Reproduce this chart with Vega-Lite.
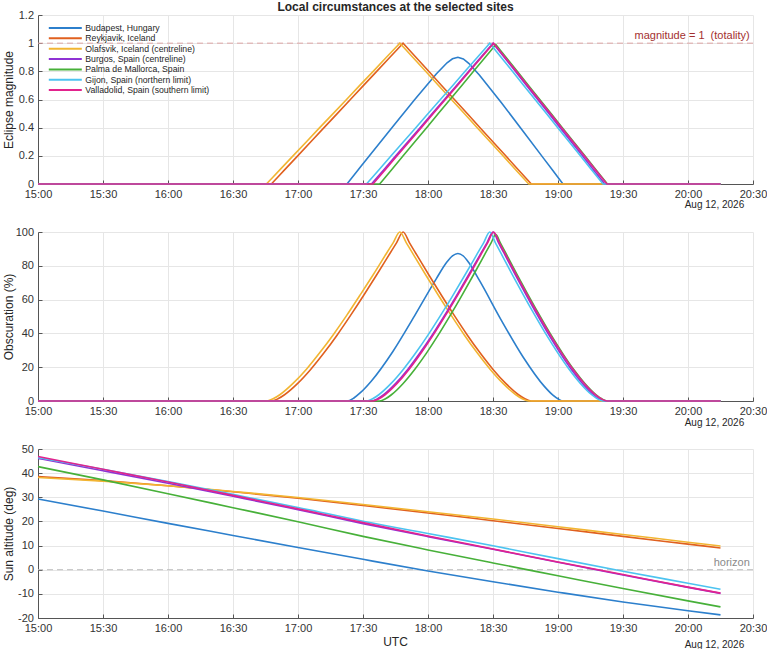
{
  "$schema": "https://vega.github.io/schema/vega-lite/v6.json",
  "background": "white",
  "padding": {"left": 2, "top": 0, "right": 0, "bottom": 0},
  "datasets": {
    "ecl": [
      {"site": "Budapest, Hungary", "t": "2026-08-12T15:00:00", "m": 0, "o": 0},
      {"site": "Budapest, Hungary", "t": "2026-08-12T17:22:36", "m": 0, "o": 0},
      {"site": "Budapest, Hungary", "t": "2026-08-12T17:25:48", "m": 0.062, "o": 1.8},
      {"site": "Budapest, Hungary", "t": "2026-08-12T17:28:48", "m": 0.12, "o": 4.9},
      {"site": "Budapest, Hungary", "t": "2026-08-12T17:33:48", "m": 0.216, "o": 11.7},
      {"site": "Budapest, Hungary", "t": "2026-08-12T17:43:48", "m": 0.408, "o": 29.3},
      {"site": "Budapest, Hungary", "t": "2026-08-12T17:53:48", "m": 0.599, "o": 50.4},
      {"site": "Budapest, Hungary", "t": "2026-08-12T18:03:48", "m": 0.781, "o": 72.3},
      {"site": "Budapest, Hungary", "t": "2026-08-12T18:08:48", "m": 0.861, "o": 82.4},
      {"site": "Budapest, Hungary", "t": "2026-08-12T18:11:18", "m": 0.889, "o": 85.9},
      {"site": "Budapest, Hungary", "t": "2026-08-12T18:13:48", "m": 0.9, "o": 87.3},
      {"site": "Budapest, Hungary", "t": "2026-08-12T18:16:18", "m": 0.888, "o": 85.8},
      {"site": "Budapest, Hungary", "t": "2026-08-12T18:18:48", "m": 0.857, "o": 81.9},
      {"site": "Budapest, Hungary", "t": "2026-08-12T18:23:48", "m": 0.772, "o": 71.2},
      {"site": "Budapest, Hungary", "t": "2026-08-12T18:33:48", "m": 0.578, "o": 47.9},
      {"site": "Budapest, Hungary", "t": "2026-08-12T18:43:48", "m": 0.377, "o": 26.2},
      {"site": "Budapest, Hungary", "t": "2026-08-12T18:53:48", "m": 0.173, "o": 8.5},
      {"site": "Budapest, Hungary", "t": "2026-08-12T18:57:48", "m": 0.092, "o": 3.3},
      {"site": "Budapest, Hungary", "t": "2026-08-12T19:00:18", "m": 0.041, "o": 1.0},
      {"site": "Budapest, Hungary", "t": "2026-08-12T19:02:18", "m": 0, "o": 0},
      {"site": "Budapest, Hungary", "t": "2026-08-12T20:15:00", "m": 0, "o": 0},

      {"site": "Reykjavik, Iceland", "t": "2026-08-12T15:00:00", "m": 0, "o": 0},
      {"site": "Reykjavik, Iceland", "t": "2026-08-12T16:47:42", "m": 0, "o": 0},
      {"site": "Reykjavik, Iceland", "t": "2026-08-12T16:50:44", "m": 0.05, "o": 1.3},
      {"site": "Reykjavik, Iceland", "t": "2026-08-12T16:53:47", "m": 0.1, "o": 3.7},
      {"site": "Reykjavik, Iceland", "t": "2026-08-12T16:59:52", "m": 0.2, "o": 10.4},
      {"site": "Reykjavik, Iceland", "t": "2026-08-12T17:05:56", "m": 0.3, "o": 18.8},
      {"site": "Reykjavik, Iceland", "t": "2026-08-12T17:12:01", "m": 0.4, "o": 28.5},
      {"site": "Reykjavik, Iceland", "t": "2026-08-12T17:18:06", "m": 0.5, "o": 39.1},
      {"site": "Reykjavik, Iceland", "t": "2026-08-12T17:24:11", "m": 0.6, "o": 50.5},
      {"site": "Reykjavik, Iceland", "t": "2026-08-12T17:30:16", "m": 0.7, "o": 62.4},
      {"site": "Reykjavik, Iceland", "t": "2026-08-12T17:36:20", "m": 0.8, "o": 74.7},
      {"site": "Reykjavik, Iceland", "t": "2026-08-12T17:42:25", "m": 0.9, "o": 87.3},
      {"site": "Reykjavik, Iceland", "t": "2026-08-12T17:45:28", "m": 0.95, "o": 93.6},
      {"site": "Reykjavik, Iceland", "t": "2026-08-12T17:48:30", "m": 1, "o": 100},
      {"site": "Reykjavik, Iceland", "t": "2026-08-12T17:51:28", "m": 0.95, "o": 93.6},
      {"site": "Reykjavik, Iceland", "t": "2026-08-12T17:54:25", "m": 0.9, "o": 87.3},
      {"site": "Reykjavik, Iceland", "t": "2026-08-12T18:00:20", "m": 0.8, "o": 74.7},
      {"site": "Reykjavik, Iceland", "t": "2026-08-12T18:06:16", "m": 0.7, "o": 62.4},
      {"site": "Reykjavik, Iceland", "t": "2026-08-12T18:12:11", "m": 0.6, "o": 50.5},
      {"site": "Reykjavik, Iceland", "t": "2026-08-12T18:18:06", "m": 0.5, "o": 39.1},
      {"site": "Reykjavik, Iceland", "t": "2026-08-12T18:24:01", "m": 0.4, "o": 28.5},
      {"site": "Reykjavik, Iceland", "t": "2026-08-12T18:29:56", "m": 0.3, "o": 18.8},
      {"site": "Reykjavik, Iceland", "t": "2026-08-12T18:35:52", "m": 0.2, "o": 10.4},
      {"site": "Reykjavik, Iceland", "t": "2026-08-12T18:41:47", "m": 0.1, "o": 3.7},
      {"site": "Reykjavik, Iceland", "t": "2026-08-12T18:44:44", "m": 0.05, "o": 1.3},
      {"site": "Reykjavik, Iceland", "t": "2026-08-12T18:47:42", "m": 0, "o": 0},
      {"site": "Reykjavik, Iceland", "t": "2026-08-12T20:15:00", "m": 0, "o": 0},

      {"site": "Olafsvik, Iceland (centreline)", "t": "2026-08-12T15:00:00", "m": 0, "o": 0},
      {"site": "Olafsvik, Iceland (centreline)", "t": "2026-08-12T16:45:24", "m": 0, "o": 0},
      {"site": "Olafsvik, Iceland (centreline)", "t": "2026-08-12T16:48:30", "m": 0.05, "o": 1.3},
      {"site": "Olafsvik, Iceland (centreline)", "t": "2026-08-12T16:51:36", "m": 0.1, "o": 3.7},
      {"site": "Olafsvik, Iceland (centreline)", "t": "2026-08-12T16:57:42", "m": 0.2, "o": 10.4},
      {"site": "Olafsvik, Iceland (centreline)", "t": "2026-08-12T17:03:54", "m": 0.3, "o": 18.8},
      {"site": "Olafsvik, Iceland (centreline)", "t": "2026-08-12T17:10:00", "m": 0.4, "o": 28.5},
      {"site": "Olafsvik, Iceland (centreline)", "t": "2026-08-12T17:16:12", "m": 0.5, "o": 39.1},
      {"site": "Olafsvik, Iceland (centreline)", "t": "2026-08-12T17:22:24", "m": 0.6, "o": 50.5},
      {"site": "Olafsvik, Iceland (centreline)", "t": "2026-08-12T17:28:30", "m": 0.7, "o": 62.4},
      {"site": "Olafsvik, Iceland (centreline)", "t": "2026-08-12T17:34:42", "m": 0.8, "o": 74.7},
      {"site": "Olafsvik, Iceland (centreline)", "t": "2026-08-12T17:40:48", "m": 0.9, "o": 87.3},
      {"site": "Olafsvik, Iceland (centreline)", "t": "2026-08-12T17:43:54", "m": 0.95, "o": 93.6},
      {"site": "Olafsvik, Iceland (centreline)", "t": "2026-08-12T17:47:00", "m": 1, "o": 100},
      {"site": "Olafsvik, Iceland (centreline)", "t": "2026-08-12T17:50:00", "m": 0.95, "o": 93.6},
      {"site": "Olafsvik, Iceland (centreline)", "t": "2026-08-12T17:52:57", "m": 0.9, "o": 87.3},
      {"site": "Olafsvik, Iceland (centreline)", "t": "2026-08-12T17:58:54", "m": 0.8, "o": 74.7},
      {"site": "Olafsvik, Iceland (centreline)", "t": "2026-08-12T18:04:51", "m": 0.7, "o": 62.4},
      {"site": "Olafsvik, Iceland (centreline)", "t": "2026-08-12T18:10:48", "m": 0.6, "o": 50.5},
      {"site": "Olafsvik, Iceland (centreline)", "t": "2026-08-12T18:16:45", "m": 0.5, "o": 39.1},
      {"site": "Olafsvik, Iceland (centreline)", "t": "2026-08-12T18:22:42", "m": 0.4, "o": 28.5},
      {"site": "Olafsvik, Iceland (centreline)", "t": "2026-08-12T18:28:39", "m": 0.3, "o": 18.8},
      {"site": "Olafsvik, Iceland (centreline)", "t": "2026-08-12T18:34:36", "m": 0.2, "o": 10.4},
      {"site": "Olafsvik, Iceland (centreline)", "t": "2026-08-12T18:40:33", "m": 0.1, "o": 3.7},
      {"site": "Olafsvik, Iceland (centreline)", "t": "2026-08-12T18:43:31", "m": 0.05, "o": 1.3},
      {"site": "Olafsvik, Iceland (centreline)", "t": "2026-08-12T18:46:30", "m": 0, "o": 0},
      {"site": "Olafsvik, Iceland (centreline)", "t": "2026-08-12T20:15:00", "m": 0, "o": 0},

      {"site": "Burgos, Spain (centreline)", "t": "2026-08-12T15:00:00", "m": 0, "o": 0},
      {"site": "Burgos, Spain (centreline)", "t": "2026-08-12T17:33:54", "m": 0, "o": 0},
      {"site": "Burgos, Spain (centreline)", "t": "2026-08-12T17:36:42", "m": 0.05, "o": 1.3},
      {"site": "Burgos, Spain (centreline)", "t": "2026-08-12T17:39:31", "m": 0.1, "o": 3.7},
      {"site": "Burgos, Spain (centreline)", "t": "2026-08-12T17:45:07", "m": 0.2, "o": 10.4},
      {"site": "Burgos, Spain (centreline)", "t": "2026-08-12T17:50:44", "m": 0.3, "o": 18.8},
      {"site": "Burgos, Spain (centreline)", "t": "2026-08-12T17:56:20", "m": 0.4, "o": 28.5},
      {"site": "Burgos, Spain (centreline)", "t": "2026-08-12T18:01:57", "m": 0.5, "o": 39.1},
      {"site": "Burgos, Spain (centreline)", "t": "2026-08-12T18:07:34", "m": 0.6, "o": 50.5},
      {"site": "Burgos, Spain (centreline)", "t": "2026-08-12T18:13:10", "m": 0.7, "o": 62.4},
      {"site": "Burgos, Spain (centreline)", "t": "2026-08-12T18:18:47", "m": 0.8, "o": 74.7},
      {"site": "Burgos, Spain (centreline)", "t": "2026-08-12T18:24:23", "m": 0.9, "o": 87.3},
      {"site": "Burgos, Spain (centreline)", "t": "2026-08-12T18:27:12", "m": 0.95, "o": 93.6},
      {"site": "Burgos, Spain (centreline)", "t": "2026-08-12T18:30:00", "m": 1, "o": 100},
      {"site": "Burgos, Spain (centreline)", "t": "2026-08-12T18:32:35", "m": 0.95, "o": 93.6},
      {"site": "Burgos, Spain (centreline)", "t": "2026-08-12T18:35:10", "m": 0.9, "o": 87.3},
      {"site": "Burgos, Spain (centreline)", "t": "2026-08-12T18:40:19", "m": 0.8, "o": 74.7},
      {"site": "Burgos, Spain (centreline)", "t": "2026-08-12T18:45:29", "m": 0.7, "o": 62.4},
      {"site": "Burgos, Spain (centreline)", "t": "2026-08-12T18:50:38", "m": 0.6, "o": 50.5},
      {"site": "Burgos, Spain (centreline)", "t": "2026-08-12T18:55:48", "m": 0.5, "o": 39.1},
      {"site": "Burgos, Spain (centreline)", "t": "2026-08-12T19:00:58", "m": 0.4, "o": 28.5},
      {"site": "Burgos, Spain (centreline)", "t": "2026-08-12T19:06:07", "m": 0.3, "o": 18.8},
      {"site": "Burgos, Spain (centreline)", "t": "2026-08-12T19:11:17", "m": 0.2, "o": 10.4},
      {"site": "Burgos, Spain (centreline)", "t": "2026-08-12T19:16:26", "m": 0.1, "o": 3.7},
      {"site": "Burgos, Spain (centreline)", "t": "2026-08-12T19:19:01", "m": 0.05, "o": 1.3},
      {"site": "Burgos, Spain (centreline)", "t": "2026-08-12T19:21:36", "m": 0, "o": 0},
      {"site": "Burgos, Spain (centreline)", "t": "2026-08-12T20:15:00", "m": 0, "o": 0},

      {"site": "Palma de Mallorca, Spain", "t": "2026-08-12T15:00:00", "m": 0, "o": 0},
      {"site": "Palma de Mallorca, Spain", "t": "2026-08-12T17:37:42", "m": 0, "o": 0},
      {"site": "Palma de Mallorca, Spain", "t": "2026-08-12T17:40:25", "m": 0.05, "o": 1.3},
      {"site": "Palma de Mallorca, Spain", "t": "2026-08-12T17:43:07", "m": 0.1, "o": 3.7},
      {"site": "Palma de Mallorca, Spain", "t": "2026-08-12T17:48:32", "m": 0.2, "o": 10.4},
      {"site": "Palma de Mallorca, Spain", "t": "2026-08-12T17:53:56", "m": 0.3, "o": 18.8},
      {"site": "Palma de Mallorca, Spain", "t": "2026-08-12T17:59:22", "m": 0.4, "o": 28.5},
      {"site": "Palma de Mallorca, Spain", "t": "2026-08-12T18:04:46", "m": 0.5, "o": 39.1},
      {"site": "Palma de Mallorca, Spain", "t": "2026-08-12T18:10:11", "m": 0.6, "o": 50.5},
      {"site": "Palma de Mallorca, Spain", "t": "2026-08-12T18:15:36", "m": 0.7, "o": 62.4},
      {"site": "Palma de Mallorca, Spain", "t": "2026-08-12T18:21:01", "m": 0.8, "o": 74.7},
      {"site": "Palma de Mallorca, Spain", "t": "2026-08-12T18:26:26", "m": 0.9, "o": 87.3},
      {"site": "Palma de Mallorca, Spain", "t": "2026-08-12T18:29:08", "m": 0.95, "o": 93.6},
      {"site": "Palma de Mallorca, Spain", "t": "2026-08-12T18:31:18", "m": 0.99, "o": 98.5},
      {"site": "Palma de Mallorca, Spain", "t": "2026-08-12T18:33:23", "m": 0.95, "o": 93.6},
      {"site": "Palma de Mallorca, Spain", "t": "2026-08-12T18:35:59", "m": 0.9, "o": 87.3},
      {"site": "Palma de Mallorca, Spain", "t": "2026-08-12T18:41:11", "m": 0.8, "o": 74.7},
      {"site": "Palma de Mallorca, Spain", "t": "2026-08-12T18:46:23", "m": 0.7, "o": 62.4},
      {"site": "Palma de Mallorca, Spain", "t": "2026-08-12T18:51:35", "m": 0.6, "o": 50.5},
      {"site": "Palma de Mallorca, Spain", "t": "2026-08-12T18:56:47", "m": 0.5, "o": 39.1},
      {"site": "Palma de Mallorca, Spain", "t": "2026-08-12T19:01:59", "m": 0.4, "o": 28.5},
      {"site": "Palma de Mallorca, Spain", "t": "2026-08-12T19:07:11", "m": 0.3, "o": 18.8},
      {"site": "Palma de Mallorca, Spain", "t": "2026-08-12T19:12:24", "m": 0.2, "o": 10.4},
      {"site": "Palma de Mallorca, Spain", "t": "2026-08-12T19:17:36", "m": 0.1, "o": 3.7},
      {"site": "Palma de Mallorca, Spain", "t": "2026-08-12T19:20:12", "m": 0.05, "o": 1.3},
      {"site": "Palma de Mallorca, Spain", "t": "2026-08-12T19:22:48", "m": 0, "o": 0},
      {"site": "Palma de Mallorca, Spain", "t": "2026-08-12T20:15:00", "m": 0, "o": 0},

      {"site": "Gijon, Spain (northern limit)", "t": "2026-08-12T15:00:00", "m": 0, "o": 0},
      {"site": "Gijon, Spain (northern limit)", "t": "2026-08-12T17:31:36", "m": 0, "o": 0},
      {"site": "Gijon, Spain (northern limit)", "t": "2026-08-12T17:34:27", "m": 0.05, "o": 1.3},
      {"site": "Gijon, Spain (northern limit)", "t": "2026-08-12T17:37:17", "m": 0.1, "o": 3.7},
      {"site": "Gijon, Spain (northern limit)", "t": "2026-08-12T17:42:59", "m": 0.2, "o": 10.4},
      {"site": "Gijon, Spain (northern limit)", "t": "2026-08-12T17:48:40", "m": 0.3, "o": 18.8},
      {"site": "Gijon, Spain (northern limit)", "t": "2026-08-12T17:54:22", "m": 0.4, "o": 28.5},
      {"site": "Gijon, Spain (northern limit)", "t": "2026-08-12T18:00:03", "m": 0.5, "o": 39.1},
      {"site": "Gijon, Spain (northern limit)", "t": "2026-08-12T18:05:44", "m": 0.6, "o": 50.5},
      {"site": "Gijon, Spain (northern limit)", "t": "2026-08-12T18:11:26", "m": 0.7, "o": 62.4},
      {"site": "Gijon, Spain (northern limit)", "t": "2026-08-12T18:17:07", "m": 0.8, "o": 74.7},
      {"site": "Gijon, Spain (northern limit)", "t": "2026-08-12T18:22:49", "m": 0.9, "o": 87.3},
      {"site": "Gijon, Spain (northern limit)", "t": "2026-08-12T18:25:40", "m": 0.95, "o": 93.6},
      {"site": "Gijon, Spain (northern limit)", "t": "2026-08-12T18:28:30", "m": 1, "o": 100},
      {"site": "Gijon, Spain (northern limit)", "t": "2026-08-12T18:31:07", "m": 0.95, "o": 93.6},
      {"site": "Gijon, Spain (northern limit)", "t": "2026-08-12T18:33:44", "m": 0.9, "o": 87.3},
      {"site": "Gijon, Spain (northern limit)", "t": "2026-08-12T18:38:58", "m": 0.8, "o": 74.7},
      {"site": "Gijon, Spain (northern limit)", "t": "2026-08-12T18:44:11", "m": 0.7, "o": 62.4},
      {"site": "Gijon, Spain (northern limit)", "t": "2026-08-12T18:49:25", "m": 0.6, "o": 50.5},
      {"site": "Gijon, Spain (northern limit)", "t": "2026-08-12T18:54:39", "m": 0.5, "o": 39.1},
      {"site": "Gijon, Spain (northern limit)", "t": "2026-08-12T18:59:53", "m": 0.4, "o": 28.5},
      {"site": "Gijon, Spain (northern limit)", "t": "2026-08-12T19:05:07", "m": 0.3, "o": 18.8},
      {"site": "Gijon, Spain (northern limit)", "t": "2026-08-12T19:10:20", "m": 0.2, "o": 10.4},
      {"site": "Gijon, Spain (northern limit)", "t": "2026-08-12T19:15:34", "m": 0.1, "o": 3.7},
      {"site": "Gijon, Spain (northern limit)", "t": "2026-08-12T19:18:11", "m": 0.05, "o": 1.3},
      {"site": "Gijon, Spain (northern limit)", "t": "2026-08-12T19:20:48", "m": 0, "o": 0},
      {"site": "Gijon, Spain (northern limit)", "t": "2026-08-12T20:15:00", "m": 0, "o": 0},

      {"site": "Valladolid, Spain (southern limit)", "t": "2026-08-12T15:00:00", "m": 0, "o": 0},
      {"site": "Valladolid, Spain (southern limit)", "t": "2026-08-12T17:34:36", "m": 0, "o": 0},
      {"site": "Valladolid, Spain (southern limit)", "t": "2026-08-12T17:37:23", "m": 0.05, "o": 1.3},
      {"site": "Valladolid, Spain (southern limit)", "t": "2026-08-12T17:40:10", "m": 0.1, "o": 3.7},
      {"site": "Valladolid, Spain (southern limit)", "t": "2026-08-12T17:45:44", "m": 0.2, "o": 10.4},
      {"site": "Valladolid, Spain (southern limit)", "t": "2026-08-12T17:51:19", "m": 0.3, "o": 18.8},
      {"site": "Valladolid, Spain (southern limit)", "t": "2026-08-12T17:56:53", "m": 0.4, "o": 28.5},
      {"site": "Valladolid, Spain (southern limit)", "t": "2026-08-12T18:02:27", "m": 0.5, "o": 39.1},
      {"site": "Valladolid, Spain (southern limit)", "t": "2026-08-12T18:08:01", "m": 0.6, "o": 50.5},
      {"site": "Valladolid, Spain (southern limit)", "t": "2026-08-12T18:13:35", "m": 0.7, "o": 62.4},
      {"site": "Valladolid, Spain (southern limit)", "t": "2026-08-12T18:19:10", "m": 0.8, "o": 74.7},
      {"site": "Valladolid, Spain (southern limit)", "t": "2026-08-12T18:24:44", "m": 0.9, "o": 87.3},
      {"site": "Valladolid, Spain (southern limit)", "t": "2026-08-12T18:27:31", "m": 0.95, "o": 93.6},
      {"site": "Valladolid, Spain (southern limit)", "t": "2026-08-12T18:30:18", "m": 1, "o": 100},
      {"site": "Valladolid, Spain (southern limit)", "t": "2026-08-12T18:32:55", "m": 0.95, "o": 93.6},
      {"site": "Valladolid, Spain (southern limit)", "t": "2026-08-12T18:35:32", "m": 0.9, "o": 87.3},
      {"site": "Valladolid, Spain (southern limit)", "t": "2026-08-12T18:40:46", "m": 0.8, "o": 74.7},
      {"site": "Valladolid, Spain (southern limit)", "t": "2026-08-12T18:45:59", "m": 0.7, "o": 62.4},
      {"site": "Valladolid, Spain (southern limit)", "t": "2026-08-12T18:51:13", "m": 0.6, "o": 50.5},
      {"site": "Valladolid, Spain (southern limit)", "t": "2026-08-12T18:56:27", "m": 0.5, "o": 39.1},
      {"site": "Valladolid, Spain (southern limit)", "t": "2026-08-12T19:01:41", "m": 0.4, "o": 28.5},
      {"site": "Valladolid, Spain (southern limit)", "t": "2026-08-12T19:06:55", "m": 0.3, "o": 18.8},
      {"site": "Valladolid, Spain (southern limit)", "t": "2026-08-12T19:12:08", "m": 0.2, "o": 10.4},
      {"site": "Valladolid, Spain (southern limit)", "t": "2026-08-12T19:17:22", "m": 0.1, "o": 3.7},
      {"site": "Valladolid, Spain (southern limit)", "t": "2026-08-12T19:19:59", "m": 0.05, "o": 1.3},
      {"site": "Valladolid, Spain (southern limit)", "t": "2026-08-12T19:22:36", "m": 0, "o": 0},
      {"site": "Valladolid, Spain (southern limit)", "t": "2026-08-12T20:15:00", "m": 0, "o": 0}
    ],
    "alt": [
      {"site": "Budapest, Hungary", "t": "2026-08-12T15:00:00", "a": 29.3},
      {"site": "Budapest, Hungary", "t": "2026-08-12T15:30:00", "a": 24.3},
      {"site": "Budapest, Hungary", "t": "2026-08-12T16:00:00", "a": 19.2},
      {"site": "Budapest, Hungary", "t": "2026-08-12T16:30:00", "a": 14.2},
      {"site": "Budapest, Hungary", "t": "2026-08-12T17:00:00", "a": 9.2},
      {"site": "Budapest, Hungary", "t": "2026-08-12T17:30:00", "a": 4.3},
      {"site": "Budapest, Hungary", "t": "2026-08-12T18:00:00", "a": -0.5},
      {"site": "Budapest, Hungary", "t": "2026-08-12T18:30:00", "a": -5.0},
      {"site": "Budapest, Hungary", "t": "2026-08-12T19:00:00", "a": -9.3},
      {"site": "Budapest, Hungary", "t": "2026-08-12T19:30:00", "a": -13.4},
      {"site": "Budapest, Hungary", "t": "2026-08-12T20:00:00", "a": -17.0},
      {"site": "Budapest, Hungary", "t": "2026-08-12T20:15:00", "a": -18.7},
      {"site": "Reykjavik, Iceland", "t": "2026-08-12T15:00:00", "a": 38.6},
      {"site": "Reykjavik, Iceland", "t": "2026-08-12T15:30:00", "a": 36.9},
      {"site": "Reykjavik, Iceland", "t": "2026-08-12T16:00:00", "a": 34.8},
      {"site": "Reykjavik, Iceland", "t": "2026-08-12T16:30:00", "a": 32.3},
      {"site": "Reykjavik, Iceland", "t": "2026-08-12T17:00:00", "a": 29.6},
      {"site": "Reykjavik, Iceland", "t": "2026-08-12T17:30:00", "a": 26.6},
      {"site": "Reykjavik, Iceland", "t": "2026-08-12T18:00:00", "a": 23.5},
      {"site": "Reykjavik, Iceland", "t": "2026-08-12T18:30:00", "a": 20.3},
      {"site": "Reykjavik, Iceland", "t": "2026-08-12T19:00:00", "a": 17.1},
      {"site": "Reykjavik, Iceland", "t": "2026-08-12T19:30:00", "a": 13.8},
      {"site": "Reykjavik, Iceland", "t": "2026-08-12T20:00:00", "a": 10.6},
      {"site": "Reykjavik, Iceland", "t": "2026-08-12T20:15:00", "a": 9.0},
      {"site": "Olafsvik, Iceland (centreline)", "t": "2026-08-12T15:00:00", "a": 38.2},
      {"site": "Olafsvik, Iceland (centreline)", "t": "2026-08-12T15:30:00", "a": 36.7},
      {"site": "Olafsvik, Iceland (centreline)", "t": "2026-08-12T16:00:00", "a": 34.8},
      {"site": "Olafsvik, Iceland (centreline)", "t": "2026-08-12T16:30:00", "a": 32.4},
      {"site": "Olafsvik, Iceland (centreline)", "t": "2026-08-12T17:00:00", "a": 29.9},
      {"site": "Olafsvik, Iceland (centreline)", "t": "2026-08-12T17:30:00", "a": 27.0},
      {"site": "Olafsvik, Iceland (centreline)", "t": "2026-08-12T18:00:00", "a": 24.0},
      {"site": "Olafsvik, Iceland (centreline)", "t": "2026-08-12T18:30:00", "a": 21.0},
      {"site": "Olafsvik, Iceland (centreline)", "t": "2026-08-12T19:00:00", "a": 17.8},
      {"site": "Olafsvik, Iceland (centreline)", "t": "2026-08-12T19:30:00", "a": 14.6},
      {"site": "Olafsvik, Iceland (centreline)", "t": "2026-08-12T20:00:00", "a": 11.4},
      {"site": "Olafsvik, Iceland (centreline)", "t": "2026-08-12T20:15:00", "a": 9.8},
      {"site": "Burgos, Spain (centreline)", "t": "2026-08-12T15:00:00", "a": 46.1},
      {"site": "Burgos, Spain (centreline)", "t": "2026-08-12T15:30:00", "a": 41.0},
      {"site": "Burgos, Spain (centreline)", "t": "2026-08-12T16:00:00", "a": 35.8},
      {"site": "Burgos, Spain (centreline)", "t": "2026-08-12T16:30:00", "a": 30.4},
      {"site": "Burgos, Spain (centreline)", "t": "2026-08-12T17:00:00", "a": 24.9},
      {"site": "Burgos, Spain (centreline)", "t": "2026-08-12T17:30:00", "a": 19.1},
      {"site": "Burgos, Spain (centreline)", "t": "2026-08-12T18:00:00", "a": 13.7},
      {"site": "Burgos, Spain (centreline)", "t": "2026-08-12T18:30:00", "a": 8.5},
      {"site": "Burgos, Spain (centreline)", "t": "2026-08-12T19:00:00", "a": 3.1},
      {"site": "Burgos, Spain (centreline)", "t": "2026-08-12T19:30:00", "a": -2.2},
      {"site": "Burgos, Spain (centreline)", "t": "2026-08-12T20:00:00", "a": -7.3},
      {"site": "Burgos, Spain (centreline)", "t": "2026-08-12T20:15:00", "a": -9.8},
      {"site": "Palma de Mallorca, Spain", "t": "2026-08-12T15:00:00", "a": 42.7},
      {"site": "Palma de Mallorca, Spain", "t": "2026-08-12T15:30:00", "a": 37.2},
      {"site": "Palma de Mallorca, Spain", "t": "2026-08-12T16:00:00", "a": 31.5},
      {"site": "Palma de Mallorca, Spain", "t": "2026-08-12T16:30:00", "a": 25.7},
      {"site": "Palma de Mallorca, Spain", "t": "2026-08-12T17:00:00", "a": 19.9},
      {"site": "Palma de Mallorca, Spain", "t": "2026-08-12T17:30:00", "a": 13.8},
      {"site": "Palma de Mallorca, Spain", "t": "2026-08-12T18:00:00", "a": 8.2},
      {"site": "Palma de Mallorca, Spain", "t": "2026-08-12T18:30:00", "a": 2.8},
      {"site": "Palma de Mallorca, Spain", "t": "2026-08-12T19:00:00", "a": -2.5},
      {"site": "Palma de Mallorca, Spain", "t": "2026-08-12T19:30:00", "a": -7.8},
      {"site": "Palma de Mallorca, Spain", "t": "2026-08-12T20:00:00", "a": -12.9},
      {"site": "Palma de Mallorca, Spain", "t": "2026-08-12T20:15:00", "a": -15.4},
      {"site": "Gijon, Spain (northern limit)", "t": "2026-08-12T15:00:00", "a": 46.4},
      {"site": "Gijon, Spain (northern limit)", "t": "2026-08-12T15:30:00", "a": 41.6},
      {"site": "Gijon, Spain (northern limit)", "t": "2026-08-12T16:00:00", "a": 36.5},
      {"site": "Gijon, Spain (northern limit)", "t": "2026-08-12T16:30:00", "a": 31.2},
      {"site": "Gijon, Spain (northern limit)", "t": "2026-08-12T17:00:00", "a": 25.8},
      {"site": "Gijon, Spain (northern limit)", "t": "2026-08-12T17:30:00", "a": 20.1},
      {"site": "Gijon, Spain (northern limit)", "t": "2026-08-12T18:00:00", "a": 15.0},
      {"site": "Gijon, Spain (northern limit)", "t": "2026-08-12T18:30:00", "a": 9.9},
      {"site": "Gijon, Spain (northern limit)", "t": "2026-08-12T19:00:00", "a": 4.6},
      {"site": "Gijon, Spain (northern limit)", "t": "2026-08-12T19:30:00", "a": -0.6},
      {"site": "Gijon, Spain (northern limit)", "t": "2026-08-12T20:00:00", "a": -5.6},
      {"site": "Gijon, Spain (northern limit)", "t": "2026-08-12T20:15:00", "a": -8.1},
      {"site": "Valladolid, Spain (southern limit)", "t": "2026-08-12T15:00:00", "a": 46.9},
      {"site": "Valladolid, Spain (southern limit)", "t": "2026-08-12T15:30:00", "a": 41.6},
      {"site": "Valladolid, Spain (southern limit)", "t": "2026-08-12T16:00:00", "a": 36.3},
      {"site": "Valladolid, Spain (southern limit)", "t": "2026-08-12T16:30:00", "a": 30.8},
      {"site": "Valladolid, Spain (southern limit)", "t": "2026-08-12T17:00:00", "a": 25.2},
      {"site": "Valladolid, Spain (southern limit)", "t": "2026-08-12T17:30:00", "a": 19.5},
      {"site": "Valladolid, Spain (southern limit)", "t": "2026-08-12T18:00:00", "a": 14.0},
      {"site": "Valladolid, Spain (southern limit)", "t": "2026-08-12T18:30:00", "a": 8.6},
      {"site": "Valladolid, Spain (southern limit)", "t": "2026-08-12T19:00:00", "a": 3.2},
      {"site": "Valladolid, Spain (southern limit)", "t": "2026-08-12T19:30:00", "a": -2.0},
      {"site": "Valladolid, Spain (southern limit)", "t": "2026-08-12T20:00:00", "a": -7.2},
      {"site": "Valladolid, Spain (southern limit)", "t": "2026-08-12T20:15:00", "a": -9.7}
    ]
  },
  "vconcat": [
    {
      "width": 715,
      "height": 169,
      "title": {
        "text": "Local circumstances at the selected sites",
        "fontSize": 12,
        "fontWeight": "bold",
        "color": "#262626",
        "frame": "group",
        "anchor": "middle",
        "offset": -4.5
      },
      "encoding": {
        "x": {
          "field": "t", "type": "temporal",
          "scale": {"domain": ["2026-08-12T15:00:00", "2026-08-12T20:30:00"]},
          "axis": {"format": "%H:%M", "tickCount": 12, "title": "Aug 12, 2026", "titleX": 705.7, "titleY": 20.5, "titleAlign": "right", "titleBaseline": "middle", "titleFontSize": 10, "labelFlush": false, "labelOverlap": false}
        },
        "y": {
          "field": "m", "type": "quantitative",
          "scale": {"domain": [0, 1.2], "nice": false},
          "axis": {"values": [0, 0.2, 0.4, 0.6, 0.8, 1, 1.2], "format": "~g", "labelOverlap": false, "title": "Eclipse magnitude", "titleX": -30, "titleBaseline": "middle"}
        }
      },
      "layer": [
        {
          "data": {"values": [{"m": 1}]},
          "mark": {"type": "rule", "color": "#dda5a5", "strokeDash": [6, 4], "strokeWidth": 1},
          "encoding": {"x": null}
        },
        {
          "data": {"values": [{"m": 1, "t": "2026-08-12T20:28:30", "label": "magnitude = 1\u00a0 (totality)"}]},
          "mark": {"type": "text", "align": "right", "baseline": "alphabetic", "dy": -4, "fontSize": 11, "color": "#a33030"},
          "encoding": {"text": {"field": "label"}}
        },
        {
          "data": {"name": "ecl"},
          "mark": {"type": "line", "strokeWidth": 1.6},
          "encoding": {
            "color": {
              "field": "site", "type": "nominal",
              "scale": {
                "domain": ["Budapest, Hungary", "Reykjavik, Iceland", "Olafsvik, Iceland (centreline)", "Burgos, Spain (centreline)", "Palma de Mallorca, Spain", "Gijon, Spain (northern limit)", "Valladolid, Spain (southern limit)"],
                "range": ["#2c7fcc", "#e0601f", "#f2b532", "#8f32d4", "#47b039", "#4cc3f0", "#e2238d"]
              },
              "legend": {
                "title": null, "orient": "none", "legendX": 22.8, "legendY": 8.5, "padding": 0,
                "symbolType": "M-4.714,0L4.714,0", "symbolSize": 49, "symbolStrokeWidth": 2,
                "labelFontSize": 8.7, "labelColor": "#262626", "labelOffset": 15.5, "rowPadding": 0.35, "labelLimit": 300
              }
            }
          }
        }
      ]
    },
    {
      "width": 715,
      "height": 169,
      "data": {"name": "ecl"},
      "mark": {"type": "line", "strokeWidth": 1.6, "interpolate": "monotone"},
      "encoding": {
        "x": {
          "field": "t", "type": "temporal",
          "scale": {"domain": ["2026-08-12T15:00:00", "2026-08-12T20:30:00"]},
          "axis": {"format": "%H:%M", "tickCount": 12, "title": "Aug 12, 2026", "titleX": 705.7, "titleY": 21, "titleAlign": "right", "titleBaseline": "middle", "titleFontSize": 10, "labelFlush": false, "labelOverlap": false}
        },
        "y": {
          "field": "o", "type": "quantitative",
          "scale": {"domain": [0, 100], "nice": false},
          "axis": {"values": [0, 20, 40, 60, 80, 100], "labelOverlap": false, "title": "Obscuration (%)", "titleX": -30, "titleBaseline": "middle"}
        },
        "color": {
          "field": "site", "type": "nominal",
          "scale": {
            "domain": ["Budapest, Hungary", "Reykjavik, Iceland", "Olafsvik, Iceland (centreline)", "Burgos, Spain (centreline)", "Palma de Mallorca, Spain", "Gijon, Spain (northern limit)", "Valladolid, Spain (southern limit)"],
            "range": ["#2c7fcc", "#e0601f", "#f2b532", "#8f32d4", "#47b039", "#4cc3f0", "#e2238d"]
          },
          "legend": null
        }
      }
    },
    {
      "width": 715,
      "height": 169,
      "title": {"text": "UTC", "orient": "bottom", "anchor": "middle", "frame": "group", "fontSize": 12, "fontWeight": "normal", "color": "#262626", "offset": -12},
      "encoding": {
        "x": {
          "field": "t", "type": "temporal",
          "scale": {"domain": ["2026-08-12T15:00:00", "2026-08-12T20:30:00"]},
          "axis": {"format": "%H:%M", "tickCount": 12, "title": "Aug 12, 2026", "titleX": 705.7, "titleY": 26, "titleAlign": "right", "titleBaseline": "middle", "titleFontSize": 10, "labelFlush": false, "labelOverlap": false}
        },
        "y": {
          "field": "a", "type": "quantitative",
          "scale": {"domain": [-20, 50], "nice": false},
          "axis": {"values": [-20, -10, 0, 10, 20, 30, 40, 50], "labelExpr": "'' + datum.value", "labelOverlap": false, "title": "Sun altitude (deg)", "titleX": -30, "titleBaseline": "middle"}
        }
      },
      "layer": [
        {
          "data": {"values": [{"a": 0}]},
          "mark": {"type": "rule", "color": "#bdbdbd", "strokeDash": [6, 4], "strokeWidth": 1},
          "encoding": {"x": null}
        },
        {
          "data": {"values": [{"a": 0, "t": "2026-08-12T20:28:30", "label": "horizon"}]},
          "mark": {"type": "text", "align": "right", "baseline": "alphabetic", "dy": -4, "fontSize": 11, "color": "#8a8a8a"},
          "encoding": {"text": {"field": "label"}}
        },
        {
          "data": {"name": "alt"},
          "mark": {"type": "line", "strokeWidth": 1.6, "interpolate": "monotone"},
          "encoding": {
            "color": {
              "field": "site", "type": "nominal",
              "scale": {
                "domain": ["Budapest, Hungary", "Reykjavik, Iceland", "Olafsvik, Iceland (centreline)", "Burgos, Spain (centreline)", "Palma de Mallorca, Spain", "Gijon, Spain (northern limit)", "Valladolid, Spain (southern limit)"],
                "range": ["#2c7fcc", "#e0601f", "#f2b532", "#8f32d4", "#47b039", "#4cc3f0", "#e2238d"]
              },
              "legend": null
            }
          }
        }
      ]
    }
  ],
  "resolve": {
    "scale": {"color": "independent"},
    "legend": {"color": "independent"}
  },
  "config": {
    "font": "Liberation Sans",
    "view": {"stroke": null},
    "concat": {"spacing": 16},
    "axis": {
      "labelFontSize": 11,
      "labelColor": "#333333",
      "titleFontSize": 12,
      "titleFontWeight": "normal",
      "titleColor": "#262626",
      "gridColor": "#e6e6e6",
      "domainColor": "#555555",
      "tickColor": "#555555",
      "tickSize": -4,
      "labelPadding": 8.5
    }
  }
}
